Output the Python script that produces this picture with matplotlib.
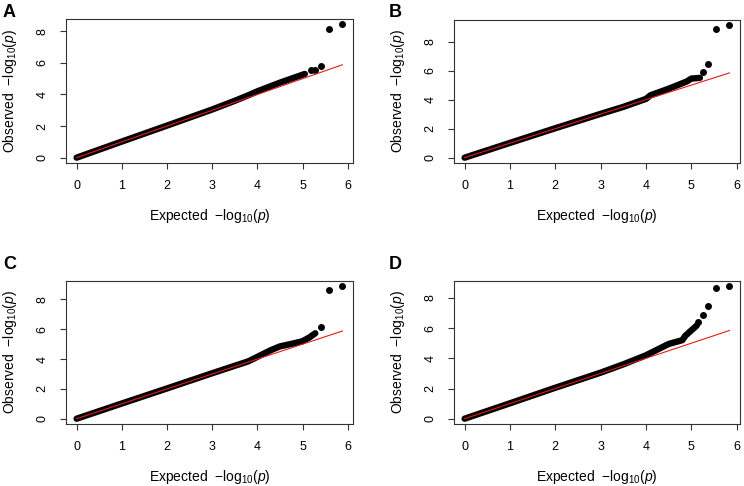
import numpy as np
import matplotlib
matplotlib.use("Agg")
import matplotlib.pyplot as plt

plt.rcParams['font.family'] = ['Liberation Sans', 'DejaVu Sans']
plt.rcParams['mathtext.fontset'] = 'custom'
plt.rcParams['mathtext.rm'] = 'Liberation Sans'
plt.rcParams['mathtext.it'] = 'Liberation Sans:italic'

# panel letters
panels = ['A', 'B', 'C', 'D']

# dense part of each QQ curve (expected, observed)
dense_exp_A = [0, 1, 2, 3, 3.5, 3.8, 4.0, 4.5, 4.8, 5.05]
dense_obs_A = [0, 1.02, 2.03, 3.05, 3.6, 3.95, 4.2, 4.75, 5.05, 5.3]
dense_exp_B = [0, 1, 2, 3, 3.5, 4.0, 4.1, 4.5, 4.9, 5.0, 5.19]
dense_obs_B = [0, 1.02, 2.03, 3.02, 3.5, 4.05, 4.3, 4.75, 5.25, 5.45, 5.5]
dense_exp_C = [0, 1, 2, 3, 3.5, 3.8, 4.0, 4.3, 4.5, 4.8, 5.0, 5.15, 5.28]
dense_obs_C = [0, 1.02, 2.03, 3.05, 3.55, 3.85, 4.15, 4.6, 4.85, 5.05, 5.2, 5.45, 5.73]
dense_exp_D = [0, 1, 2, 3, 3.5, 4.0, 4.5, 4.8, 4.87, 5.0, 5.12]
dense_obs_D = [0, 1.02, 2.05, 3.05, 3.6, 4.2, 4.95, 5.2, 5.5, 5.85, 6.17]

# separate top points
tail_exp_A = [5.18, 5.28, 5.41, 5.58, 5.88]
tail_obs_A = [5.53, 5.55, 5.81, 8.17, 8.44]
tail_exp_B = [5.25, 5.37, 5.55, 5.84]
tail_obs_B = [5.91, 6.46, 8.87, 9.12]
tail_exp_C = [5.41, 5.58, 5.88]
tail_obs_C = [6.17, 8.63, 8.88]
tail_exp_D = [5.15, 5.25, 5.37, 5.55, 5.84]
tail_obs_D = [6.43, 6.88, 7.49, 8.67, 8.77]

dense_exp = [dense_exp_A, dense_exp_B, dense_exp_C, dense_exp_D]
dense_obs = [dense_obs_A, dense_obs_B, dense_obs_C, dense_obs_D]
tail_exp = [tail_exp_A, tail_exp_B, tail_exp_C, tail_exp_D]
tail_obs = [tail_obs_A, tail_obs_B, tail_obs_C, tail_obs_D]

fig = plt.figure(figsize=(7.44, 4.86), dpi=100)

W, H = 744.0, 486.0
# axes boxes in pixels: left, top, right, bottom
boxes = [(66, 19, 353, 163), (454, 20, 740, 163),
         (66, 281, 353, 424), (454, 281, 740, 424)]
letter_pos = [(3, 4), (389, 4), (3, 256), (389, 256)]

for i in range(4):
    l, t, r, b = boxes[i]
    ax = fig.add_axes([l / W, 1 - b / H, (r - l) / W, (b - t) / H])
    xe = np.array(dense_exp[i])
    yo = np.array(dense_obs[i])
    ax.plot(xe, yo, color='black', lw=4.6, solid_capstyle='round',
            solid_joinstyle='round', zorder=2)
    ax.plot(tail_exp[i], tail_obs[i], 'o', color='black', ms=5, mec='none', zorder=2)
    xmax = max(tail_exp[i])
    ymax = max(tail_obs[i])
    ax.plot([0, xmax], [0, xmax], color='#e41a1c', lw=0.8, zorder=3)

    ax.set_xlim(-0.04 * xmax, xmax * 1.04)
    ax.set_ylim(-0.04 * ymax, ymax * 1.04)
    ax.set_xticks(range(0, 7))
    ax.set_yticks(range(0, 9, 2))
    ax.tick_params(length=4.5, width=0.8, color='#333333', labelsize=9, pad=8)
    ax.tick_params(axis='y', labelrotation=90)
    for lab in ax.get_yticklabels():
        lab.set_va('center')
    for s in ax.spines.values():
        s.set_color('#333333')
        s.set_linewidth(0.8)

    ax.set_xlabel(r'Expected  $-\mathrm{log}_{10}(\mathit{p})$', fontsize=10, va='center')
    ax.set_ylabel(r'Observed  $-\mathrm{log}_{10}(\mathit{p})$', fontsize=10, va='center')
    ax.xaxis.set_label_coords(0.5, -53.0 / (b - t))
    ax.yaxis.set_label_coords(-56.0 / (r - l), 0.5)

    lx, ly = letter_pos[i]
    fig.text(lx / W, 1 - ly / H, panels[i], fontsize=13, fontweight='bold',
             ha='left', va='top')

fig.savefig('out.png', dpi=100)
